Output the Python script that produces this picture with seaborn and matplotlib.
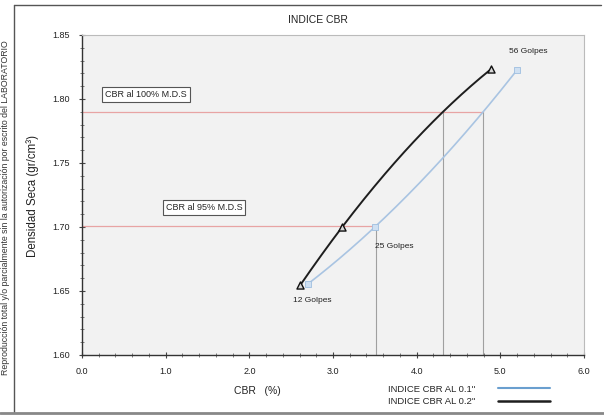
import numpy as np
import pandas as pd
import matplotlib
matplotlib.use("Agg")
import matplotlib.pyplot as plt
import seaborn as sns
from matplotlib.ticker import MultipleLocator, FormatStrFormatter

# ---- data ----
golpes = ["12 Golpes", "25 Golpes", "56 Golpes"]
densidad_01 = [1.6555, 1.700, 1.8227]
densidad_02 = [1.6547, 1.700, 1.8234]
cbr_01 = [2.70, 3.50, 5.20]   # INDICE CBR AL 0.1"
cbr_02 = [2.61, 3.11, 4.89]   # INDICE CBR AL 0.2"
mds_100 = 1.790
mds_95 = 1.7005
x_ticks = [0.0, 1.0, 2.0, 3.0, 4.0, 5.0, 6.0]
y_ticks = [1.60, 1.65, 1.70, 1.75, 1.80, 1.85]

sns.set_theme(style="white")
plt.rcParams['font.family'] = ['Liberation Sans', 'DejaVu Sans']

W, H = 604, 416
L, R, T, B = 82, 584, 35, 355
fig = plt.figure(figsize=(W/100, H/100), dpi=100)
ax = fig.add_axes([L/W, 1-B/H, (R-L)/W, (B-T)/H])
ax.set_facecolor("#f2f2f2")

XMIN, XMAX, YMIN, YMAX = 0, 6, 1.60, 1.85

def smooth(xs, ys, n=200):
    """Second-order polynomial curve of density vs CBR through the points."""
    c = np.polyfit(xs, ys, 2)
    xx = np.linspace(min(xs), max(xs), n)
    return xx, np.polyval(c, xx)

x1, y1 = smooth(cbr_01, densidad_01)
x2, y2 = smooth(cbr_02, densidad_02)

x01_100 = np.interp(mds_100, y1, x1)
x02_100 = np.interp(mds_100, y2, x2)
x01_95 = np.interp(mds_95, y1, x1)

# reference lines
red = "#e8a4a4"
grey = "#a0a0a0"
ax.plot([0, x01_100], [mds_100, mds_100], color=red, lw=0.9, zorder=1)
ax.plot([0, x01_95], [mds_95, mds_95], color=red, lw=0.9, zorder=1)
for xv, yv in [(x01_95, mds_95), (x02_100, mds_100), (x01_100, mds_100)]:
    ax.plot([xv, xv], [YMIN, yv], color=grey, lw=0.8, zorder=1)

blue_line = "#a9c4e2"
sns.lineplot(x=x1, y=y1, sort=False, ax=ax, color=blue_line, lw=1.2, zorder=2)
sns.lineplot(x=x2, y=y2, sort=False, ax=ax, color="#1e1e1e", lw=1.4, zorder=3)
sns.scatterplot(x=cbr_01, y=densidad_01, ax=ax, marker="s", s=18, color="#cfe0f2",
                edgecolor="#9fbfe0", linewidth=0.6, zorder=4)
sns.scatterplot(x=cbr_02, y=densidad_02, ax=ax, marker="^", s=26, color="#d8d8d8",
                edgecolor="#111111", linewidth=1.0, zorder=5)

# point labels
ax.annotate(golpes[0], (cbr_02[0], densidad_02[0]), xytext=(-5, -11), textcoords="offset points",
            fontsize=6, ha="left", va="center", color="#222222")
ax.annotate(golpes[1], (cbr_01[1], densidad_01[1]), xytext=(0, -14), textcoords="offset points",
            fontsize=6, ha="left", va="center", color="#222222")
ax.annotate(golpes[2], (cbr_01[2], densidad_01[2]), xytext=(-6, 13), textcoords="offset points",
            fontsize=6, ha="left", va="center", color="#222222")

# boxed labels
box = dict(boxstyle="square,pad=0.35", fc="white", ec="#555555", lw=0.8)
ax.text(0.28, 1.8035, "CBR al 100% M.D.S", fontsize=6.5, ha="left", va="center", bbox=box)
ax.text(1.0, 1.7155, "CBR al 95% M.D.S", fontsize=6.5, ha="left", va="center", bbox=box)

ax.set_xlim(XMIN, XMAX)
ax.set_ylim(YMIN, YMAX)
ax.set_xticks(x_ticks)
ax.set_yticks(y_ticks)
ax.xaxis.set_major_formatter(FormatStrFormatter("%.1f"))
ax.yaxis.set_major_formatter(FormatStrFormatter("%.2f"))
ax.xaxis.set_minor_locator(MultipleLocator(0.2))
ax.yaxis.set_minor_locator(MultipleLocator(0.01))
ax.tick_params(axis="both", which="major", labelsize=6.5, direction="inout", length=5,
               width=0.8, color="#444444", labelcolor="#222222", left=True, bottom=True, pad=6)
ax.tick_params(axis="both", which="minor", direction="inout", length=3, width=0.6,
               color="#666666", left=True, bottom=True)

for s in ["left", "bottom"]:
    ax.spines[s].set_color("#333333")
    ax.spines[s].set_linewidth(1.0)
for s in ["top", "right"]:
    ax.spines[s].set_color("#bbbbbb")
    ax.spines[s].set_linewidth(0.8)

ax.set_xlabel("CBR   (%)", fontsize=7.5, color="#222222")
ax.set_ylabel("Densidad Seca (gr/cm\u00b3)", fontsize=8.3, color="#222222")
ax.xaxis.set_label_coords((257-L)/(R-L), -(391-B)/(B-T))
ax.xaxis.label.set_va("center")
ax.yaxis.set_label_coords((33-L)/(R-L), (B-196)/(B-T))
ax.yaxis.label.set_va("center")

fig.text(318/W, 1-20/H, "INDICE CBR", fontsize=7.5, ha="center", va="center", color="#222222")

# legend
h1, = ax.plot([], [], color="#6a9fcf", lw=1.5, label='INDICE CBR AL 0.1"')
h2, = ax.plot([], [], color="#1e1e1e", lw=1.8, label='INDICE CBR AL 0.2"')
fig.legend(handles=[h1, h2], loc="upper left", bbox_to_anchor=(383/W, 1-380/H),
           frameon=False, fontsize=6.8, markerfirst=False, handlelength=5.5,
           handletextpad=2.4, labelspacing=0.4, borderpad=0)

# outer frame lines and side note
fig.add_artist(plt.Line2D([14/W, 14/W], [1-412/H, 1-5/H], transform=fig.transFigure, color="#555555", lw=1.0))
fig.add_artist(plt.Line2D([14/W, 0.995], [1-5/H, 1-5/H], transform=fig.transFigure, color="#555555", lw=1.0))
fig.add_artist(plt.Line2D([0.0, 1.0], [1-413/H, 1-413/H], transform=fig.transFigure, color="#888888", lw=2.0))
fig.text(6/W, 0.5, "Reproducción total y/o parcialmente sin la autorización por escrito del LABORATORIO",
         rotation=90, fontsize=6.3, ha="center", va="center", color="#333333")

fig.savefig("out.png", dpi=100)
